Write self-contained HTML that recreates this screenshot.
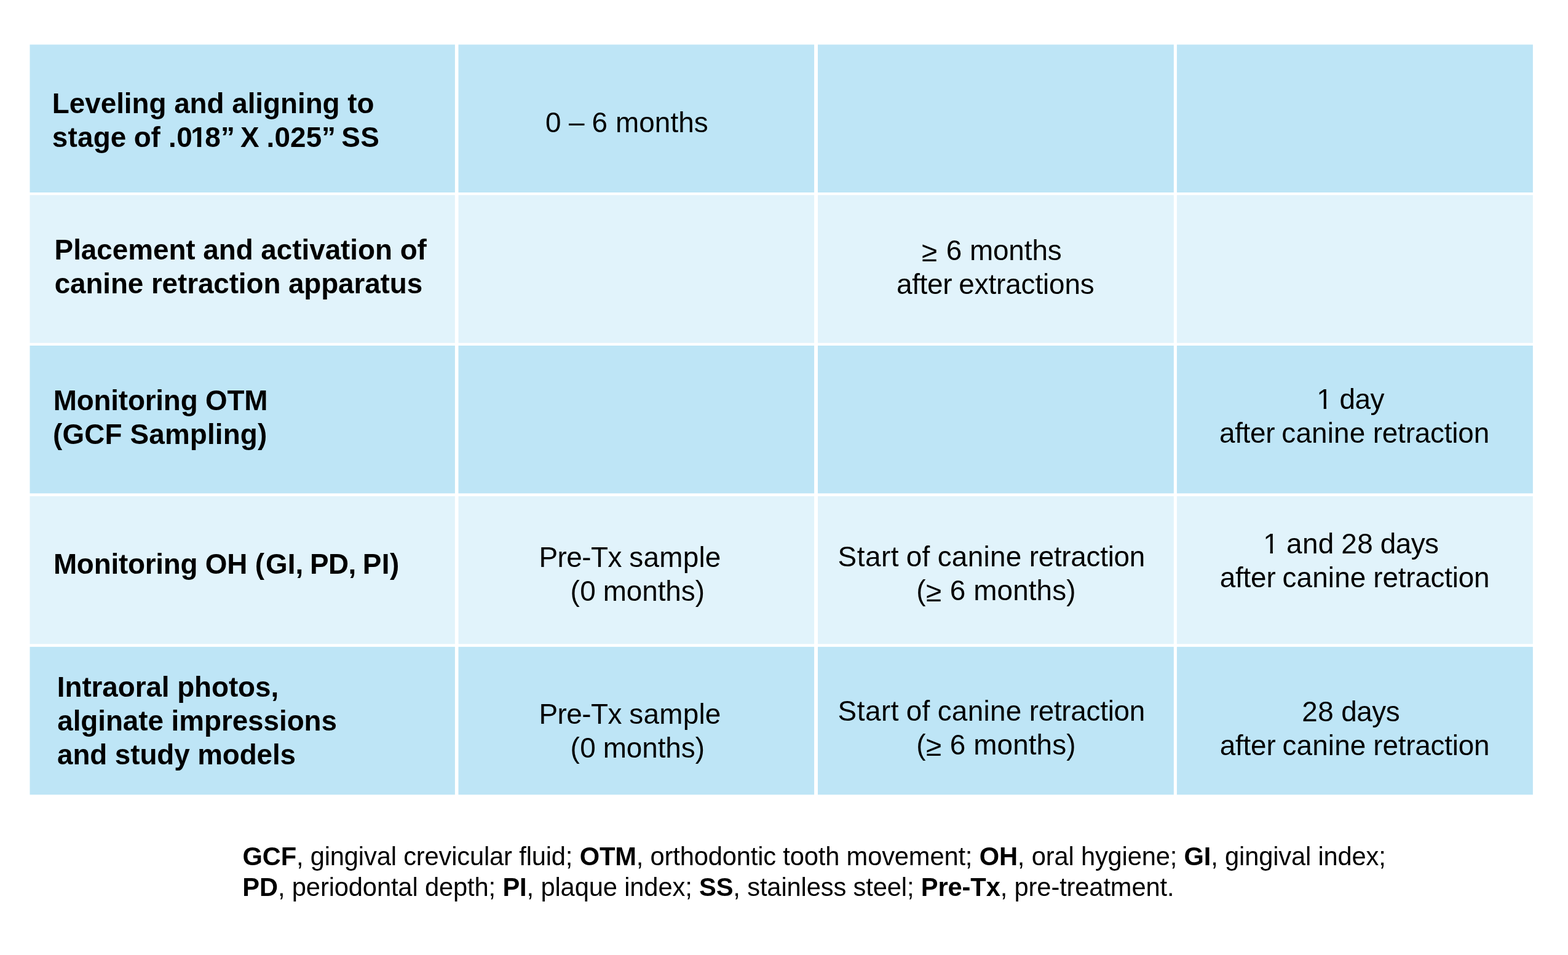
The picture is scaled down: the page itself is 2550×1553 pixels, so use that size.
<!DOCTYPE html>
<html lang="en">
<head>
<meta charset="utf-8">
<title>Study timeline</title>
<style>
html,body{margin:0;padding:0;background:#fff}
body{width:2550px;height:1553px;position:relative;font-family:"Liberation Sans",sans-serif;color:#000}
.bg{position:absolute;left:0;top:0;display:block}
.t{position:absolute;white-space:pre;font-size:45.83px;line-height:60px;height:60px;margin:0}
.rh .t{font-weight:bold}
.note .t{font-size:41.67px}
.one{display:inline-block;clip-path:polygon(0 0,100% 0,100% 41px,15.7px 41px,15.7px 100%,11.4px 100%,11.4px 41px,0 41px)}
.oneb{display:inline-block;clip-path:polygon(0 0,100% 0,100% 40px,17.1px 40px,17.1px 100%,10.6px 100%,10.6px 40px,0 40px)}
b{font-weight:bold}
</style>
</head>
<body>
<svg class="bg" width="2550" height="1553" viewBox="0 0 2550 1553" xmlns="http://www.w3.org/2000/svg" aria-hidden="true">
<rect x="48.5" y="72.5" width="691.4" height="240.5" fill="#bee5f6"/>
<rect x="745.5" y="72.5" width="578.6" height="240.5" fill="#bee5f6"/>
<rect x="1330" y="72.5" width="578.85" height="240.5" fill="#bee5f6"/>
<rect x="1913.9" y="72.5" width="579" height="240.5" fill="#bee5f6"/>
<rect x="48.5" y="317.2" width="691.4" height="240.5" fill="#e1f3fb"/>
<rect x="745.5" y="317.2" width="578.6" height="240.5" fill="#e1f3fb"/>
<rect x="1330" y="317.2" width="578.85" height="240.5" fill="#e1f3fb"/>
<rect x="1913.9" y="317.2" width="579" height="240.5" fill="#e1f3fb"/>
<rect x="48.5" y="562" width="691.4" height="240.3" fill="#bee5f6"/>
<rect x="745.5" y="562" width="578.6" height="240.3" fill="#bee5f6"/>
<rect x="1330" y="562" width="578.85" height="240.3" fill="#bee5f6"/>
<rect x="1913.9" y="562" width="579" height="240.3" fill="#bee5f6"/>
<rect x="48.5" y="806.85" width="691.4" height="240.45" fill="#e1f3fb"/>
<rect x="745.5" y="806.85" width="578.6" height="240.45" fill="#e1f3fb"/>
<rect x="1330" y="806.85" width="578.85" height="240.45" fill="#e1f3fb"/>
<rect x="1913.9" y="806.85" width="579" height="240.45" fill="#e1f3fb"/>
<rect x="48.5" y="1051.85" width="691.4" height="240.45" fill="#bee5f6"/>
<rect x="745.5" y="1051.85" width="578.6" height="240.45" fill="#bee5f6"/>
<rect x="1330" y="1051.85" width="578.85" height="240.45" fill="#bee5f6"/>
<rect x="1913.9" y="1051.85" width="579" height="240.45" fill="#bee5f6"/>
</svg>
<div class="table" role="table">
<div class="row" role="row">
<div class="rh" role="rowheader">
<div class="t" style="left:84.85px;top:139px;letter-spacing:-0.038px">Leveling and aligning to</div>
<div class="t" style="left:84.69px;top:194px"><span style="letter-spacing:0.237px">stage </span><span style="letter-spacing:-0.034px;position:relative;left:-0.91px">of </span><span style="letter-spacing:0.5px;position:relative;left:-0.46px">.0</span><span class="oneb" style="position:relative;left:-3.56px">1</span><span style="position:relative;left:-5.99px">8</span><span style="position:relative;left:-5.63px">” </span><span style="position:relative;left:-9.38px">X </span><span style="letter-spacing:0.154px;position:relative;left:-10.16px">.025</span><span style="position:relative;left:-10.54px">” </span><span style="letter-spacing:0.231px;position:relative;left:-13.77px">SS</span></div>
</div>
<div class="td" role="cell">
<div class="t" style="left:886.98px;top:170px"><span>0 </span><span style="position:relative;left:-0.2px;top:-1px">– </span><span style="letter-spacing:0.089px;position:relative;left:-0.88px">6 months</span></div>
</div>
<div class="td" role="cell"></div>
<div class="td" role="cell"></div>
</div>
<div class="row" role="row">
<div class="rh" role="rowheader">
<div class="t" style="left:88.62px;top:377px;letter-spacing:-0.033px">Placement and activation of</div>
<div class="t" style="left:88.67px;top:432px;letter-spacing:-0.098px">canine retraction apparatus</div>
</div>
<div class="td" role="cell"></div>
<div class="td" role="cell">
<div class="t" style="left:1498.82px;top:378px"><span style="position:relative;top:2px">≥ </span><span style="letter-spacing:-0.092px;position:relative;left:2.17px">6 months</span></div>
<div class="t" style="left:1457.9px;top:433px"><span style="letter-spacing:-0.251px">after </span><span style="letter-spacing:-0.113px;position:relative;left:-1.54px">extractions</span></div>
</div>
<div class="td" role="cell"></div>
</div>
<div class="row" role="row">
<div class="rh" role="rowheader">
<div class="t" style="left:86.76px;top:622px;letter-spacing:-0.202px">Monitoring OTM</div>
<div class="t" style="left:86.12px;top:677px;letter-spacing:0.146px">(GCF Sampling)</div>
</div>
<div class="td" role="cell"></div>
<div class="td" role="cell"></div>
<div class="td" role="cell">
<div class="t" style="left:2141.29px;top:620px"><span class="one">1 </span><span style="letter-spacing:-0.5px;position:relative;left:-1.05px">day</span></div>
<div class="t" style="left:1982.9px;top:675px"><span style="letter-spacing:-0.251px">after </span><span style="letter-spacing:0.178px;position:relative;left:-1.52px">canine </span><span style="letter-spacing:-0.17px;position:relative;left:-2.19px">retraction</span></div>
</div>
</div>
<div class="row" role="row">
<div class="rh" role="rowheader">
<div class="t" style="left:86.93px;top:888px"><span style="letter-spacing:-0.226px">Monitoring OH (</span><span style="letter-spacing:0.004px;position:relative;left:2.39px">GI, </span><span style="letter-spacing:-0.5px;position:relative;left:0.36px">PD, </span><span style="letter-spacing:0.443px;position:relative;left:-0.9px">PI)</span></div>
</div>
<div class="td" role="cell">
<div class="t" style="left:876.41px;top:877px"><span style="letter-spacing:-0.5px">Pre-Tx </span><span style="letter-spacing:0.247px;position:relative;left:0.22px">sample</span></div>
<div class="t" style="left:927.47px;top:932px"><span style="letter-spacing:0.5px">(0 </span><span style="letter-spacing:-0.049px;position:relative;left:-1.78px">months)</span></div>
</div>
<div class="td" role="cell">
<div class="t" style="left:1362.62px;top:876px"><span style="letter-spacing:0.5px">Start </span><span style="letter-spacing:0.167px;position:relative;left:-1.32px">of </span><span style="letter-spacing:0.308px;position:relative;left:-1.97px">canine </span><span style="letter-spacing:-0.281px;position:relative;left:-2.81px">retraction</span></div>
<div class="t" style="left:1490.13px;top:931px"><span>(</span><span style="position:relative;left:0.43px;top:2px">≥ </span><span style="letter-spacing:0.108px;position:relative;left:1.54px">6 months)</span></div>
</div>
<div class="td" role="cell">
<div class="t" style="left:2054.24px;top:855px"><span class="one">1 </span><span style="letter-spacing:0.382px;position:relative;left:-0.43px">and </span><span style="letter-spacing:0.5px;position:relative;left:-2.04px">28 </span><span style="letter-spacing:-0.5px;position:relative;left:-3.69px">days</span></div>
<div class="t" style="left:1983.78px;top:910px"><span style="letter-spacing:-0.201px">after </span><span style="letter-spacing:0.168px;position:relative;left:-1.59px">canine </span><span style="letter-spacing:-0.203px;position:relative;left:-2.65px">retraction</span></div>
</div>
</div>
<div class="row" role="row">
<div class="rh" role="rowheader">
<div class="t" style="left:92.82px;top:1088px;letter-spacing:-0.077px">Intraoral photos,</div>
<div class="t" style="left:93.21px;top:1143px;letter-spacing:-0.056px">alginate impressions</div>
<div class="t" style="left:93.07px;top:1198px;letter-spacing:-0.104px">and study models</div>
</div>
<div class="td" role="cell">
<div class="t" style="left:876.41px;top:1132px"><span style="letter-spacing:-0.5px">Pre-Tx </span><span style="letter-spacing:0.247px;position:relative;left:0.22px">sample</span></div>
<div class="t" style="left:927.47px;top:1187px"><span style="letter-spacing:0.5px">(0 </span><span style="letter-spacing:-0.049px;position:relative;left:-1.78px">months)</span></div>
</div>
<div class="td" role="cell">
<div class="t" style="left:1362.62px;top:1127px"><span style="letter-spacing:0.5px">Start </span><span style="letter-spacing:0.167px;position:relative;left:-1.32px">of </span><span style="letter-spacing:0.308px;position:relative;left:-1.97px">canine </span><span style="letter-spacing:-0.281px;position:relative;left:-2.81px">retraction</span></div>
<div class="t" style="left:1490.13px;top:1182px"><span>(</span><span style="position:relative;left:0.43px;top:2px">≥ </span><span style="letter-spacing:0.108px;position:relative;left:1.54px">6 months)</span></div>
</div>
<div class="td" role="cell">
<div class="t" style="left:2117.15px;top:1128px"><span style="letter-spacing:0.5px">28 </span><span style="letter-spacing:-0.5px;position:relative;left:-1.05px">days</span></div>
<div class="t" style="left:1983.78px;top:1183px"><span style="letter-spacing:-0.201px">after </span><span style="letter-spacing:0.168px;position:relative;left:-1.59px">canine </span><span style="letter-spacing:-0.203px;position:relative;left:-2.65px">retraction</span></div>
</div>
</div>
</div>
<div class="note">
<div class="t" style="left:394.48px;top:1363px;letter-spacing:-0.159px"><b>GCF</b>, gingival crevicular fluid; <b>OTM</b>, orthodontic tooth movement; <b>OH</b>, oral hygiene; <b>GI</b>, gingival index;</div>
<div class="t" style="left:394.33px;top:1413px;letter-spacing:-0.13px"><b>PD</b>, periodontal depth; <b>PI</b>, plaque index; <b>SS</b>, stainless steel; <b>Pre-Tx</b>, pre-treatment.</div>
</div>
</body>
</html>
